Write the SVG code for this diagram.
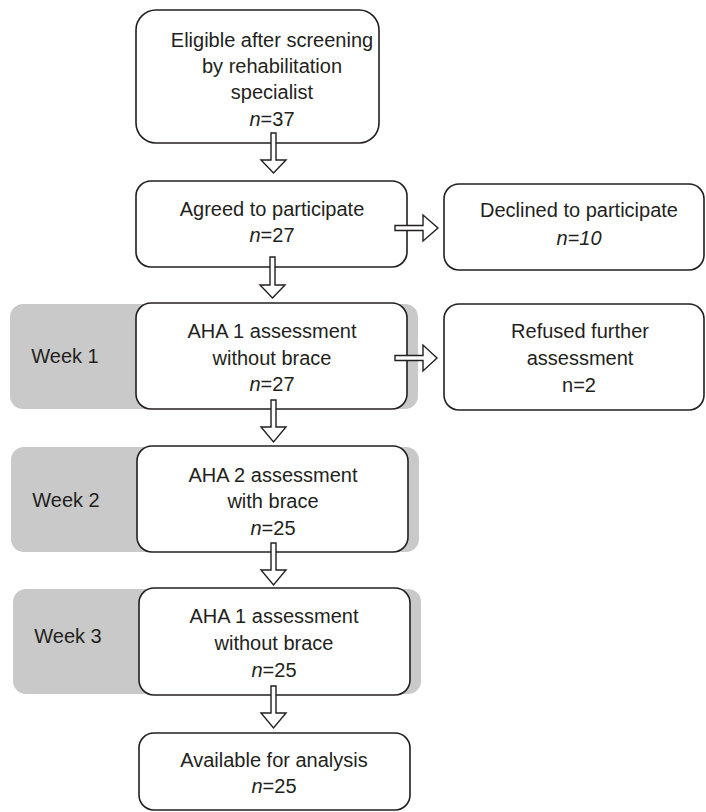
<svg xmlns="http://www.w3.org/2000/svg" width="706" height="812" viewBox="0 0 706 812">
  <style>
    .box { fill: #ffffff; stroke: #231f20; stroke-width: 1.6; }
    .band { fill: #c9c9c9; }
    .txt { font-family: "Liberation Sans", Arial, sans-serif; font-size: 20px; fill: #231f20; text-anchor: middle; }
    .it { font-style: italic; }
    .arrow { fill: #ffffff; stroke: #231f20; stroke-width: 1.4; stroke-linejoin: miter; }
  </style>

  <!-- week bands -->
  <g id="week1">
    <rect class="band" x="10" y="304" width="408" height="105" rx="13"/>
    <text class="txt" x="65" y="363">Week 1</text>
  </g>
  <g id="week2">
    <rect class="band" x="11" y="447" width="408" height="105" rx="13"/>
    <text class="txt" x="66" y="507">Week 2</text>
  </g>
  <g id="week3">
    <rect class="band" x="13" y="589" width="408" height="105" rx="13"/>
    <text class="txt" x="68" y="643">Week 3</text>
  </g>

  <!-- flow nodes -->
  <g id="eligible">
    <rect class="box" x="136" y="10" width="243" height="133" rx="20"/>
    <text class="txt" x="272" y="47">Eligible after screening</text>
    <text class="txt" x="272" y="73">by rehabilitation</text>
    <text class="txt" x="272" y="99">specialist</text>
    <text class="txt" x="272" y="126"><tspan class="it">n</tspan>=37</text>
  </g>
  <g id="agreed">
    <rect class="box" x="136" y="181" width="271" height="86" rx="15"/>
    <text class="txt" x="272" y="216">Agreed to participate</text>
    <text class="txt" x="272" y="242"><tspan class="it">n</tspan>=27</text>
  </g>
  <g id="declined">
    <rect class="box" x="444" y="184" width="260" height="86" rx="15"/>
    <text class="txt" x="579" y="217">Declined to participate</text>
    <text class="txt it" x="579" y="245">n=10</text>
  </g>
  <g id="aha1-week1">
    <rect class="box" x="136" y="303" width="271" height="106" rx="15"/>
    <text class="txt" x="272" y="338">AHA 1 assessment</text>
    <text class="txt" x="272" y="365">without brace</text>
    <text class="txt" x="272" y="391"><tspan class="it">n</tspan>=27</text>
  </g>
  <g id="refused">
    <rect class="box" x="444" y="304" width="260" height="106" rx="15"/>
    <text class="txt" x="580" y="338">Refused further</text>
    <text class="txt" x="580" y="365">assessment</text>
    <text class="txt" x="579" y="392">n=2</text>
  </g>
  <g id="aha2-week2">
    <rect class="box" x="137" y="446" width="271" height="106" rx="15"/>
    <text class="txt" x="273" y="482">AHA 2 assessment</text>
    <text class="txt" x="273" y="508">with brace</text>
    <text class="txt" x="273" y="535"><tspan class="it">n</tspan>=25</text>
  </g>
  <g id="aha1-week3">
    <rect class="box" x="139" y="588" width="271" height="107" rx="15"/>
    <text class="txt" x="274" y="623">AHA 1 assessment</text>
    <text class="txt" x="274" y="650">without brace</text>
    <text class="txt" x="274" y="677"><tspan class="it">n</tspan>=25</text>
  </g>
  <g id="available">
    <rect class="box" x="139" y="733" width="271" height="77" rx="15"/>
    <text class="txt" x="274" y="767">Available for analysis</text>
    <text class="txt" x="274" y="793"><tspan class="it">n</tspan>=25</text>
  </g>

  <!-- block arrow connectors -->
  <g id="connectors">
    <polygon class="arrow" points="271,133 276,133 276,160 286,160 273.5,173 261,160 271,160"/>
    <polygon class="arrow" points="270,257 275,257 275,285 285,285 272.5,298 260,285 270,285"/>
    <polygon class="arrow" points="271,400 276,400 276,427 286,427 273.5,442 261,427 271,427"/>
    <polygon class="arrow" points="271,543 276,543 276,570 286,570 273.5,585 261,570 271,570"/>
    <polygon class="arrow" points="271,686 276,686 276,713 286,713 273.5,728 261,713 271,713"/>
    <polygon class="arrow" points="395,225.5 423,225.5 423,215 438,228 423,241 423,230.5 395,230.5"/>
    <polygon class="arrow" points="395,355.5 423,355.5 423,345 437,358 423,371 423,360.5 395,360.5"/>
  </g>
</svg>
